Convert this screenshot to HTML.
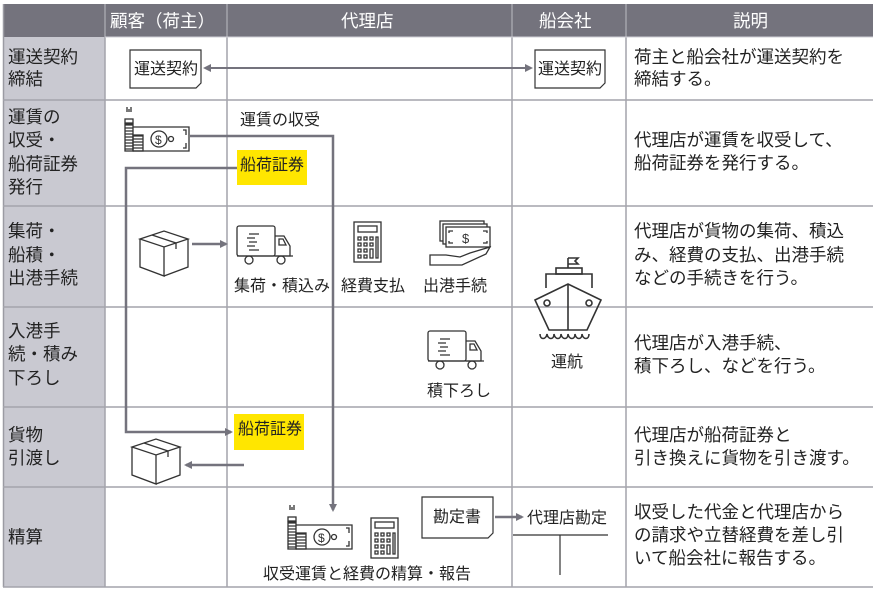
<!DOCTYPE html>
<html><head><meta charset="utf-8">
<style>
html,body{margin:0;padding:0;background:#fff;}
svg{display:block;}
text{font-family:"Liberation Sans","Noto Sans CJK JP",sans-serif;font-size:16px;fill:#222;}
.h{fill:#fff;font-size:17.5px;}
.l{font-size:17.5px;fill:#222;}
</style></head><body>
<svg width="877" height="591" viewBox="0 0 877 591" xmlns="http://www.w3.org/2000/svg">
<defs>
<marker id="ar" markerWidth="8" markerHeight="8" refX="6" refY="4" orient="auto" markerUnits="userSpaceOnUse"><path d="M0,0 L8,4 L0,8 Z" fill="#74737d"/></marker>
<marker id="al" markerWidth="8" markerHeight="8" refX="2" refY="4" orient="auto" markerUnits="userSpaceOnUse"><path d="M8,0 L0,4 L8,8 Z" fill="#74737d"/></marker>
<g id="money" fill="none" stroke="#333" stroke-width="1.3">
<rect x="0" y="14" width="8" height="4"/>
<path d="M0,20h8M0,23h8M0,26h8M0,29h8M0,32h8M0,35h8M0,38h8M0,41h8M0,44h8"/>
<path d="M8,31h10M8,34h10M8,37h10M8,40h10M8,43h10M8,46h10"/>
<rect x="0" y="19" width="8" height="27"/><rect x="8" y="30" width="10" height="16"/>
<path d="M2,2v5M4,4v3M6,2v5"/>
<path d="M8,22h56v24h-46"/>
<circle cx="34" cy="34" r="8"/><text x="30" y="39" style="font-size:12px;fill:#333;stroke:none">$</text>
<circle cx="46" cy="34" r="2.5"/>
<path d="M58,25h3v5M58,43h3v-5"/>
</g>
<g id="calc" fill="none" stroke="#333" stroke-width="1.3">
<rect x="0" y="0" width="27" height="40"/><rect x="4" y="4" width="19" height="6"/>
<path d="M4,15h3v3h-3zM10,15h3v3h-3zM16,15h3v3h-3zM4,21h3v3h-3zM10,21h3v3h-3zM16,21h3v3h-3zM4,27h3v3h-3zM10,27h3v3h-3zM4,33h3v3h-3zM10,33h3v3h-3zM16,27h3v9h-3zM22,15h2v21h-2z"/>
</g>
<g id="truck" fill="none" stroke="#333" stroke-width="1.3">
<rect x="0" y="0" width="38" height="30" rx="2"/>
<path d="M12,8h10M10,12h8M12,16h8M10,20h8M12,24h10"/>
<path d="M38,10h9l6,10v10h-15"/>
<path d="M42,13h4l3,6h-7z"/>
<path d="M0,30h56"/>
<circle cx="12" cy="34" r="4"/><circle cx="44" cy="34" r="4"/>
</g>
<g id="box" fill="none" stroke="#333" stroke-width="1.3">
<path d="M0,8 L24,0 L48,8 L24,16 Z"/><path d="M0,8v28l24,9v-29"/><path d="M48,8v28l-24,9"/>
<path d="M12,4l24,8v6"/>
</g>
</defs>

<rect x="3" y="4" width="870" height="33" fill="#74737d"/>
<rect x="3" y="37" width="102" height="550" fill="#c9c9d1"/>
<line x1="3.5" y1="4" x2="3.5" y2="587" stroke="#9b9ba3" stroke-width="1.5"/>
<g stroke="#a4a4ac" stroke-width="1.5">
<line x1="105" y1="4" x2="105" y2="587"/>
<line x1="227" y1="4" x2="227" y2="587"/>
<line x1="512" y1="4" x2="512" y2="587"/>
<line x1="626" y1="4" x2="626" y2="587"/>
<line x1="3" y1="100" x2="873" y2="100"/>
<line x1="3" y1="206" x2="873" y2="206"/>
<line x1="3" y1="307" x2="873" y2="307"/>
<line x1="3" y1="407" x2="873" y2="407"/>
<line x1="3" y1="487" x2="873" y2="487"/>
<line x1="3" y1="587" x2="873" y2="587"/>
</g>
<g stroke="#cfcfd6" stroke-width="1"><line x1="105" y1="37" x2="873" y2="37"/></g>
<text class="h" x="110" y="27">顧客（荷主）</text>
<text class="h" x="341" y="27">代理店</text>
<text class="h" x="539" y="27">船会社</text>
<text class="h" x="733" y="27">説明</text>
<text class="l" x="8" y="63">運送契約</text><text class="l" x="8" y="85">締結</text>
<text class="l" x="8" y="123">運賃の</text><text class="l" x="8" y="146">収受・</text><text class="l" x="8" y="170">船荷証券</text><text class="l" x="8" y="193">発行</text>
<text class="l" x="8" y="237">集荷・</text><text class="l" x="8" y="261">船積・</text><text class="l" x="8" y="284">出港手続</text>
<text class="l" x="8" y="337">入港手</text><text class="l" x="8" y="360">続・積み</text><text class="l" x="8" y="384">下ろし</text>
<text class="l" x="8" y="441">貨物</text><text class="l" x="8" y="464">引渡し</text>
<text class="l" x="8" y="543">精算</text>
<text class="l" x="634" y="63">荷主と船会社が運送契約を</text><text class="l" x="634" y="85">締結する。</text>
<text class="l" x="634" y="146">代理店が運賃を収受して、</text><text class="l" x="634" y="169">船荷証券を発行する。</text>
<text class="l" x="634" y="237">代理店が貨物の集荷、積込</text><text class="l" x="634" y="261">み、経費の支払、出港手続</text><text class="l" x="634" y="284">などの手続きを行う。</text>
<text class="l" x="634" y="349">代理店が入港手続、</text><text class="l" x="634" y="372">積下ろし、などを行う。</text>
<text class="l" x="634" y="441">代理店が船荷証券と</text><text class="l" x="634" y="464">引き換えに貨物を引き渡す。</text>
<text class="l" x="634" y="518">収受した代金と代理店から</text><text class="l" x="634" y="541">の請求や立替経費を差し引</text><text class="l" x="634" y="564">いて船会社に報告する。</text>

<path d="M130,50h71v33l-5,5h-66z" fill="#fff" stroke="#333" stroke-width="1.2"/>
<text x="134" y="74">運送契約</text>
<path d="M535,50h70v33l-5,5h-65z" fill="#fff" stroke="#333" stroke-width="1.2"/>
<text x="538" y="74">運送契約</text>
<line x1="205" y1="68" x2="531" y2="68" stroke="#74737d" stroke-width="2" marker-start="url(#al)" marker-end="url(#ar)"/>

<use href="#money" x="125" y="105"/>
<text x="240" y="125">運賃の収受</text>
<rect x="237" y="150" width="70" height="35" fill="#ffe600"/>
<text x="240" y="170">船荷証券</text>
<path d="M190,136H333V510" fill="none" stroke="#74737d" stroke-width="2.5" marker-end="url(#ar)"/>
<path d="M237,168H126V432H231" fill="none" stroke="#74737d" stroke-width="2.5" marker-end="url(#ar)"/>

<use href="#box" x="140" y="231"/>
<line x1="192" y1="244" x2="226" y2="244" stroke="#74737d" stroke-width="2.5" marker-end="url(#ar)"/>
<use href="#truck" x="237" y="226"/>
<text x="234" y="291">集荷・積込み</text>
<use href="#calc" x="354" y="222"/>
<text x="341" y="291">経費支払</text>
<g fill="none" stroke="#333" stroke-width="1.3">
<rect x="440" y="221" width="44" height="20"/><rect x="443" y="224" width="44" height="20" fill="#fff"/><rect x="446" y="227" width="44" height="20" fill="#fff"/>
<text x="462" y="243" style="font-size:13px;fill:#333;stroke:none">$</text>
<path d="M449,233v-2h4M449,241v2h4M487,233v-2h-4M487,241v2h-4"/>
<path d="M430,255h16l14,2 10-4 20-6-4,7-24,11h-32z"/>
</g>
<text x="423" y="291">出港手続</text>

<g fill="none" stroke="#333" stroke-width="1.6">
<path d="M568,258v10M568,258h10l-3,3 3,3h-10"/>
<rect x="556" y="268" width="26" height="6"/>
<path d="M546,288v-14h46v14"/>
<path d="M535,300l33-16 33,16-14,30h-38z"/>
<path d="M568,284v46"/>
<circle cx="547" cy="303" r="3"/><circle cx="589" cy="303" r="3"/>
<path d="M540,334c0,6 6,6 7,0c1,6 7,6 7,0c1,6 7,6 7,0c1,6 7,6 7,0c1,6 7,6 7,0c1,6 7,6 7,0c1,6 7,6 7,0"/>
</g>
<text x="551" y="367">運航</text>

<use href="#truck" x="428" y="331"/>
<text x="427" y="396">積下ろし</text>

<rect x="234" y="414" width="70" height="36" fill="#ffe600"/>
<text x="238" y="434">船荷証券</text>
<use href="#box" x="132" y="439"/>
<line x1="244" y1="465" x2="186" y2="465" stroke="#74737d" stroke-width="2.5" marker-end="url(#ar)"/>

<use href="#money" x="288" y="503"/>
<use href="#calc" x="371" y="518"/>
<text x="263" y="579">収受運賃と経費の精算・報告</text>
<path d="M422,497h71v36l-5,5h-66z" fill="#fff" stroke="#333" stroke-width="1.2"/>
<text x="433" y="522">勘定書</text>
<line x1="495" y1="517" x2="522" y2="517" stroke="#74737d" stroke-width="2.5" marker-end="url(#ar)"/>
<text x="527" y="523">代理店勘定</text>
<path d="M513,535h95M560,535v40" stroke="#333" stroke-width="1.2" fill="none"/>
</svg>
</body></html>
